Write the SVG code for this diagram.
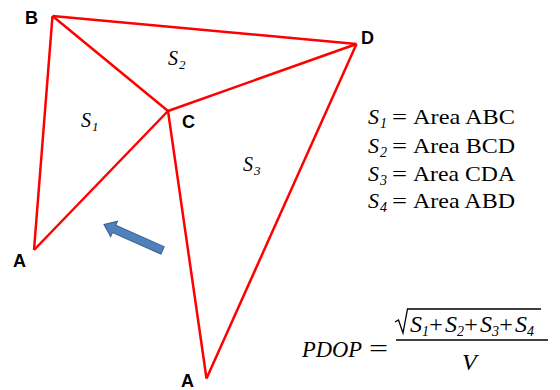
<svg xmlns="http://www.w3.org/2000/svg" width="560" height="390" viewBox="0 0 560 390">
<style>
.edge{stroke:#FF0000;stroke-width:2.5;fill:none;stroke-linejoin:miter}
.lbl{font-family:"Liberation Sans",Arial,sans-serif;font-weight:bold;font-size:18px;fill:#000}
.s{font-family:"Liberation Serif","Times New Roman",serif;font-style:italic;font-size:20px;fill:#000}
.sub{font-family:"Liberation Serif","Times New Roman",serif;font-style:italic;font-size:13px;fill:#000}
.leg{font-family:"Liberation Serif","Times New Roman",serif;font-size:22px;fill:#000}
.legi{font-family:"Liberation Serif","Times New Roman",serif;font-style:italic;font-size:22px;fill:#000}
.legsub{font-family:"Liberation Serif","Times New Roman",serif;font-style:italic;font-size:14px;fill:#000}
.m{font-family:"Liberation Serif","Times New Roman",serif;font-style:italic;font-size:24px;fill:#000}
.mn{font-family:"Liberation Serif","Times New Roman",serif;font-size:24px;fill:#000}
.msub{font-family:"Liberation Serif","Times New Roman",serif;font-style:italic;font-size:14px;fill:#000}
</style>
<g id="connectors">
<line class="edge" x1="52.5" y1="16" x2="356.5" y2="44"/>
<line class="edge" x1="52.5" y1="16" x2="168" y2="111"/>
<line class="edge" x1="168" y1="111" x2="356.5" y2="44"/>
<line class="edge" x1="52.5" y1="16" x2="34" y2="250"/>
<line class="edge" x1="34" y1="250" x2="168" y2="111"/>
<line class="edge" x1="168" y1="111" x2="206.5" y2="378.5"/>
<line class="edge" x1="356.5" y1="44" x2="206.5" y2="378.5"/>
</g>
<g id="node-B"><text class="lbl" x="25" y="24">B</text></g>
<g id="node-C"><text class="lbl" x="182" y="128">C</text></g>
<g id="node-D"><text class="lbl" x="361" y="44">D</text></g>
<g id="node-A1"><text class="lbl" x="13" y="267">A</text></g>
<g id="node-A2"><text class="lbl" x="181" y="387">A</text></g>
<g id="area-labels">
<text class="s" x="81" y="127">S</text><text class="sub" x="92" y="131">1</text>
<text class="s" x="168" y="65">S</text><text class="sub" x="179" y="69">2</text>
<text class="s" x="243" y="171">S</text><text class="sub" x="254" y="175">3</text>
</g>
<g id="arrow">
<polygon transform="translate(104,224.5) rotate(23.8)" points="0,0 11,-8.5 11,-4 64,-4 64,4 11,4 11,8.5" fill="#4F81BD" stroke="#385D8A" stroke-width="1"/>
</g>
<g id="legend">
<text class="legi" x="368" y="124">S</text><text class="legsub" x="380" y="128">1</text><text class="leg" x="392" y="124" textLength="15" lengthAdjust="spacingAndGlyphs">=</text><text class="leg" x="413" y="124" textLength="102" lengthAdjust="spacingAndGlyphs">Area ABC</text>
<text class="legi" x="368" y="153">S</text><text class="legsub" x="380" y="157">2</text><text class="leg" x="392" y="153" textLength="15" lengthAdjust="spacingAndGlyphs">=</text><text class="leg" x="413" y="153" textLength="102" lengthAdjust="spacingAndGlyphs">Area BCD</text>
<text class="legi" x="368" y="181">S</text><text class="legsub" x="380" y="185">3</text><text class="leg" x="392" y="181" textLength="15" lengthAdjust="spacingAndGlyphs">=</text><text class="leg" x="413" y="181" textLength="102" lengthAdjust="spacingAndGlyphs">Area CDA</text>
<text class="legi" x="368" y="208">S</text><text class="legsub" x="380" y="212">4</text><text class="leg" x="392" y="208" textLength="15" lengthAdjust="spacingAndGlyphs">=</text><text class="leg" x="413" y="208" textLength="102" lengthAdjust="spacingAndGlyphs">Area ABD</text>
</g>
<g id="formula">
<text class="m" x="302" y="357" textLength="60" lengthAdjust="spacingAndGlyphs">PDOP</text>
<text class="mn" x="369" y="356" textLength="19" lengthAdjust="spacingAndGlyphs">=</text>
<path d="M395,322 L398.5,320 L403,333 L407.5,309 L541,309" fill="none" stroke="#000" stroke-width="1.3"/>
<text class="m" x="410" y="332" font-size="23">S</text><text class="msub" x="422" y="336">1</text>
<text class="mn" x="436" y="332" text-anchor="middle">+</text>
<text class="m" x="445" y="332" font-size="23">S</text><text class="msub" x="457" y="336">2</text>
<text class="mn" x="471" y="332" text-anchor="middle">+</text>
<text class="m" x="480" y="332" font-size="23">S</text><text class="msub" x="492" y="336">3</text>
<text class="mn" x="506" y="332" text-anchor="middle">+</text>
<text class="m" x="515" y="332" font-size="23">S</text><text class="msub" x="527" y="336">4</text>
<line x1="396" y1="340" x2="548" y2="340" stroke="#000" stroke-width="1.3"/>
<text class="m" x="462" y="370">V</text>
</g>
</svg>
